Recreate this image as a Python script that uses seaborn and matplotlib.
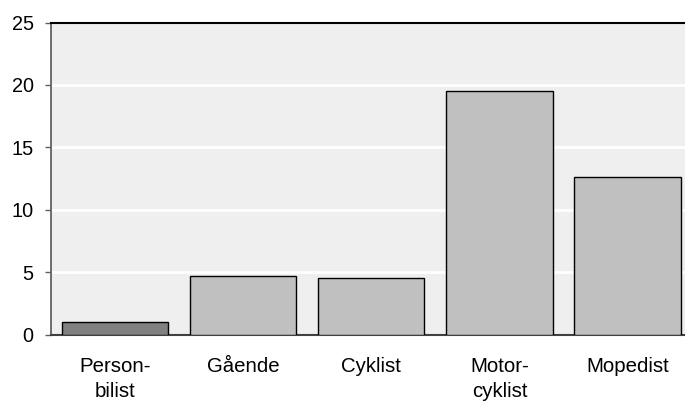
import matplotlib
matplotlib.use("Agg")
import matplotlib.pyplot as plt
import seaborn as sns
import pandas as pd

categories = ["Person-\nbilist", "Gående", "Cyklist", "Motor-\ncyklist", "Mopedist"]
values = [1.0, 4.7, 4.5, 19.5, 12.6]
bar_colors = ["#808080", "#c0c0c0", "#c0c0c0", "#c0c0c0", "#c0c0c0"]
yticks = [0, 5, 10, 15, 20, 25]

sns.set_style("white")
plt.rcParams["font.family"] = ["Liberation Sans", "DejaVu Sans"]

df = pd.DataFrame({"cat": categories, "val": values})

fig = plt.figure(figsize=(6.85, 4.03), dpi=100)
ax = fig.add_axes([51/685, 1-334.5/403, 640.6/685, 312/403])
ax.set_facecolor("#efefef")

sns.barplot(data=df, x="cat", y="val", hue="cat", palette=bar_colors,
            width=0.83, edgecolor="black", linewidth=1, legend=False, ax=ax,
            zorder=3)

ax.set_ylim(0, 25)
ax.set_xlim(-0.5, 4.5)
ax.set_yticks(yticks)
ax.set_yticklabels([str(t) for t in yticks], fontsize=14.3)
for t in yticks[1:-1]:
    ax.axhline(t, color="white", lw=2, zorder=1)
ax.set_xlabel("")
ax.set_ylabel("")
ax.tick_params(axis="x", length=0, pad=16, labelsize=14.7, labelcolor="black")
ax.tick_params(axis="y", length=4.5, width=1, color="#606060", pad=8, left=True,
               labelcolor="black")
for lab in ax.get_xticklabels():
    lab.set_linespacing(1.45)

ax.spines["top"].set_color("black")
ax.spines["top"].set_linewidth(1.5)
ax.spines["left"].set_color("#555555")
ax.spines["left"].set_linewidth(1.2)
ax.spines["bottom"].set_color("#404040")
ax.spines["bottom"].set_linewidth(1.5)
ax.spines["right"].set_visible(False)

fig.savefig("out.png", dpi=100)
